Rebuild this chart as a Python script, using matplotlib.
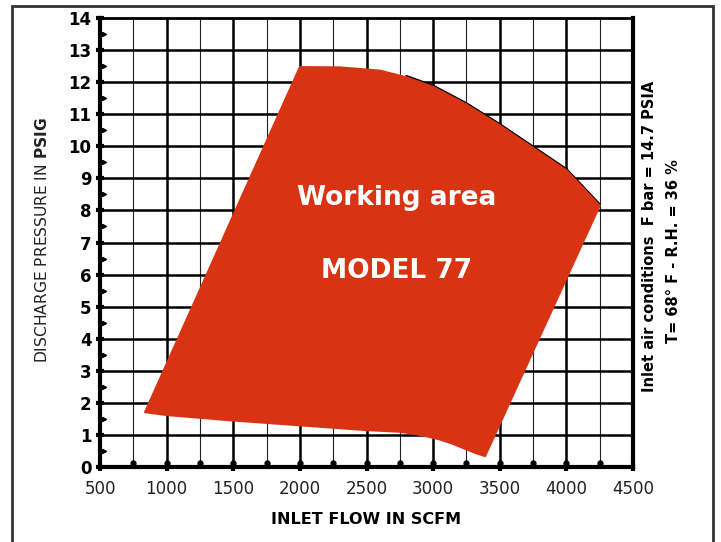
import numpy as np
import matplotlib
matplotlib.use('Agg')
import matplotlib.pyplot as plt
from matplotlib.patches import Polygon, Rectangle

# outline of the working area (inlet flow scfm, discharge pressure psig)
area_x = [838, 2000, 2300, 2600, 2800, 3000, 3250, 3500, 3750, 4000, 4250,
          3390, 3330, 3250, 3150, 3050, 2950, 2850, 2750, 2500, 2000, 1500, 1000]
area_y = [1.71, 12.47, 12.46, 12.36, 12.15, 11.85, 11.3, 10.65, 9.95, 9.25, 8.15,
          0.34, 0.42, 0.55, 0.72, 0.86, 0.96, 1.04, 1.1, 1.15, 1.3, 1.45, 1.62]
# black rim seen along the upper right edge
rim_x = [2800, 3000, 3250, 3500, 3750, 4000, 4250]
rim_y = [12.15, 11.85, 11.3, 10.65, 9.95, 9.25, 8.15]

xticks = [500, 1000, 1500, 2000, 2500, 3000, 3500, 4000, 4500]
yticks = list(range(0, 15))
red = '#d83414'

fig = plt.figure(figsize=(7.21, 5.42), dpi=100)
ax = fig.add_axes([100/721, 75/542, 533/721, 449/542])
ax.set_xlim(500, 4500)
ax.set_ylim(0, 14)

# grid
for x in np.arange(750, 4500, 500):
    ax.axvline(x, color='#222222', lw=0.8, zorder=1)
for x in xticks[1:-1]:
    ax.axvline(x, color='black', lw=1.8, zorder=1)
for y in yticks[1:-1]:
    ax.axhline(y, color='black', lw=1.8, zorder=1)

ax.plot(rim_x, np.array(rim_y) + 0.04, color='black', lw=1.6, zorder=2,
        solid_capstyle='round')
poly = Polygon(np.column_stack([area_x, area_y]), closed=True, facecolor=red,
               edgecolor=red, lw=1.5, joinstyle='round', zorder=3)
ax.add_patch(poly)

# small marks along the axes
ax.plot(np.full(14, 530), np.arange(0.5, 14, 1), marker='>', ls='none',
        color='black', ms=3, clip_on=False, zorder=5)
ax.plot(np.arange(750, 4500, 250), np.full(15, 0.12), marker='o', ls='none',
        color='black', ms=3.5, clip_on=False, zorder=5)

ax.text(2725, 8.4, 'Working area', color='white', fontsize=19,
        fontweight='bold', ha='center', va='center', zorder=6)
ax.text(2725, 6.1, 'MODEL 77', color='white', fontsize=19,
        fontweight='bold', ha='center', va='center', zorder=6)

ax.set_xticks(xticks)
ax.set_yticks(yticks)
ax.set_xticklabels([str(v) for v in xticks], fontsize=12, color='#222222')
ax.set_yticklabels([str(v) for v in yticks], fontsize=12, fontweight='heavy')
ax.tick_params(axis='both', direction='inout', length=6, width=3, color='black')
ax.tick_params(axis='x', pad=6.5)
ax.tick_params(axis='y', pad=3)
for s in ['left', 'bottom', 'right']:
    ax.spines[s].set_linewidth(3)
ax.spines['top'].set_linewidth(2)
for s in ax.spines.values():
    s.set_zorder(7)

fig.text(42/721, 1 - 240/542, r'DISCHARGE PRESSURE IN $\bf{PSIG}$',
         rotation=90, fontsize=11.2, ha='center', va='center', color='#222222')
fig.text(366/721, 1 - 519/542, 'INLET FLOW IN SCFM', fontsize=11.5,
         fontweight='heavy', ha='center', va='center')
fig.text(650/721, 1 - 236/542, 'Inlet air conditions  F bar = 14.7 PSIA',
         rotation=90, fontsize=10.5, fontweight='bold', ha='center', va='center')
fig.text(673/721, 1 - 251/542, 'T= 68\u00b0 F - R.H. = 36 %',
         rotation=90, fontsize=10.5, fontweight='bold', ha='center', va='center')

# outer frame
fig.patches.append(Rectangle((12/721, -0.01), 701/721, 1.01 - 6/542,
                             transform=fig.transFigure, fill=False,
                             edgecolor='#333333', lw=2))

fig.savefig('out.png', dpi=100)
